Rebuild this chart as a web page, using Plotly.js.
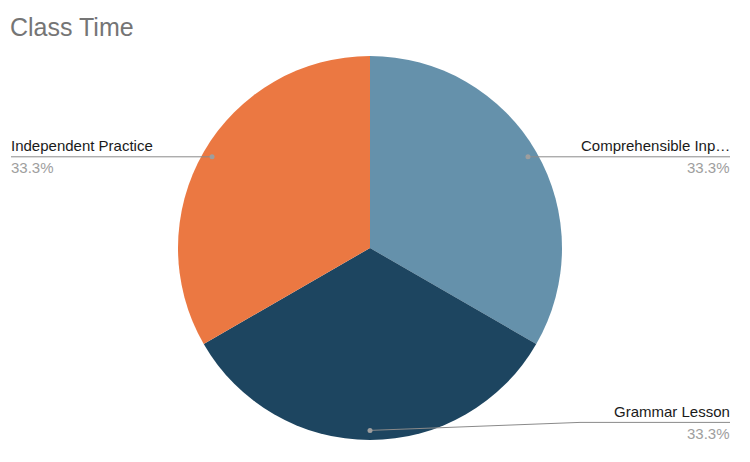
<!DOCTYPE html>
<html>
<head>
<meta charset="utf-8">
<script src="https://cdn.plot.ly/plotly-3.0.1.min.js"></script>
<style>html,body{margin:0;padding:0;background:#fff}#chart{width:750px;height:462px}</style>
</head>
<body>
<div id="chart"></div>
<script>
const categories = ["Comprehensible Input", "Grammar Lesson", "Independent Practice"];
const displayLabels = ["Comprehensible Inp…", "Grammar Lesson", "Independent Practice"];
const values = [1, 1, 1];
const colors = ["#6591AB", "#1D4560", "#EB7842"];

const W = 750, H = 462;
const cx = 370, cy = 248, R = 192;
const total = values.reduce((a, b) => a + b, 0);
const px = x => x / W;
const py = y => 1 - y / H;

const shapes = [];
const annotations = [];
let cum = 0;
values.forEach((v, i) => {
  const mid = (cum + v / 2) / total * 2 * Math.PI;
  cum += v;
  const dx = Math.sin(mid), dy = -Math.cos(mid);
  const ex = cx + dx * R * 0.95, ey = cy + dy * R * 0.95;
  const right = dx >= -0.01;
  const pct = (v / total * 100).toFixed(1) + '%';
  let lineY, endX;
  if (Math.abs(dy) > 0.9) {
    lineY = ey - 8;
    endX = 730;
    shapes.push({type:'line', xref:'paper', yref:'paper', x0:px(ex), y0:py(ey), x1:px(580), y1:py(lineY), line:{color:'#8a8a8a', width:1}});
    shapes.push({type:'line', xref:'paper', yref:'paper', x0:px(580), y0:py(lineY), x1:px(endX), y1:py(lineY), line:{color:'#8a8a8a', width:1}});
  } else {
    lineY = ey;
    endX = right ? 730 : 11;
    shapes.push({type:'line', xref:'paper', yref:'paper', x0:px(ex), y0:py(ey), x1:px(endX), y1:py(lineY), line:{color:'#8a8a8a', width:1}});
  }
  shapes.push({type:'circle', xref:'paper', yref:'paper', x0:px(ex-2.5), y0:py(ey-2.5), x1:px(ex+2.5), y1:py(ey+2.5), fillcolor:'#9e9e9e', line:{width:0}});
  const tx = right ? endX + 2 : endX - 2;
  annotations.push({xref:'paper', yref:'paper', x:px(tx), y:py(lineY - 0.5), xanchor: right ? 'right' : 'left', yanchor:'bottom', showarrow:false, text:displayLabels[i], font:{family:'Liberation Sans, Arial, sans-serif', size:15, color:'#1a1a1a'}});
  annotations.push({xref:'paper', yref:'paper', x:px(tx), y:py(lineY + 0.5), xanchor: right ? 'right' : 'left', yanchor:'top', showarrow:false, text:pct, font:{family:'Liberation Sans, Arial, sans-serif', size:15, color:'#9e9e9e'}});
});

const trace = {
  type: 'pie',
  labels: categories,
  values: values,
  sort: false,
  direction: 'clockwise',
  rotation: 0,
  textinfo: 'none',
  hoverinfo: 'none',
  marker: {colors: colors, line: {width: 0}},
  domain: {x: [px(cx - R), px(cx + R)], y: [py(cy + R), py(cy - R)]}
};

const layout = {
  width: W, height: H,
  margin: {l:0, r:0, t:0, b:0},
  showlegend: false,
  paper_bgcolor: '#ffffff',
  title: {text: 'Class Time', x: 10/W, xanchor: 'left', y: 1 - 27/H, yanchor: 'middle', font: {family: 'Liberation Sans, Arial, sans-serif', size: 25, color: '#757575'}},
  shapes: shapes,
  annotations: annotations
};

Plotly.newPlot('chart', [trace], layout, {displayModeBar: false, staticPlot: true});
</script>
</body>
</html>
